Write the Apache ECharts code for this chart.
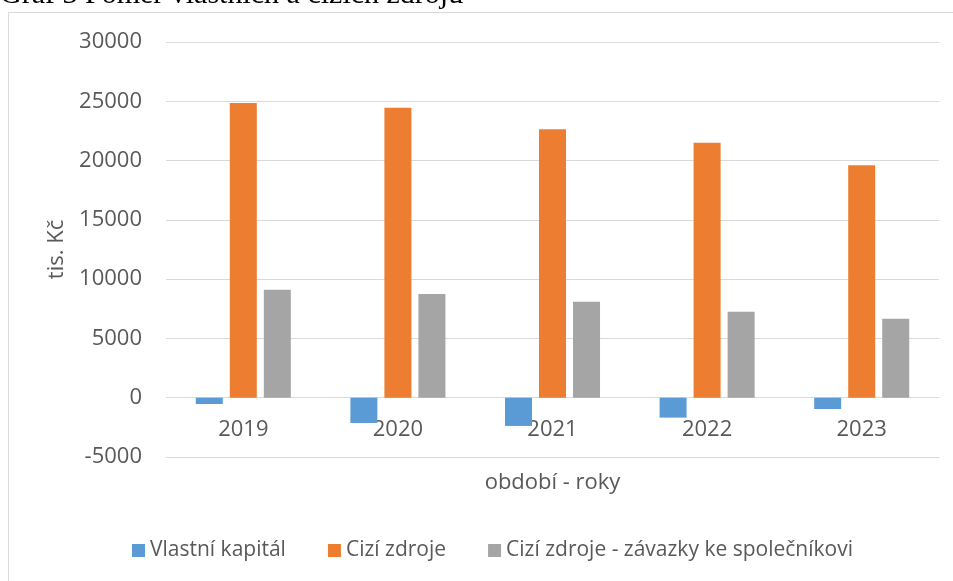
<!DOCTYPE html>
<html>
<head>
<meta charset="utf-8">
<script src="https://cdn.jsdelivr.net/npm/echarts@6/dist/echarts.min.js"></script>
<style>
  html, body { margin: 0; padding: 0; background: #fff; }
  #chart { width: 953px; height: 581px; }
</style>
</head>
<body>
<div id="chart"></div>
<script>
// hodnoty (tis. Kč)
const years = ['2019', '2020', '2021', '2022', '2023']
const vlastniKapital = [-530, -2130, -2380, -1680, -950]
const ciziZdroje = [24850, 24450, 22650, 21500, 19600]
const zavazkySpolecnik = [9100, 8750, 8100, 7250, 6650]
const seriesNames = ['Vlastní kapitál', 'Cizí zdroje', 'Cizí zdroje - závazky ke společníkovi']
const colors = ['#5b9bd5', '#ed7d31', '#a5a5a5']

const textColor = '#595959'
const font = 'Open Sans'

const chart = echarts.init(document.getElementById('chart'))

const bar = (name, data, color) => ({
    name: name,
    type: 'bar',
    data: data,
    barWidth: 27,
    barGap: '26%',
    itemStyle: { color: color }
})

chart.setOption({
    animation: false,
    title: {
        text: 'Graf 3 Poměr vlastních a cizích zdrojů',
        left: -5,
        top: -25,
        textStyle: {
            fontFamily: 'Liberation Serif',
            fontSize: 30,
            fontWeight: 'normal',
            color: '#000'
        }
    },
    graphic: [{
        type: 'rect',
        silent: true,
        shape: { x: 8.5, y: 12.5, width: 1000, height: 1000 },
        style: { fill: 'none', stroke: '#d9d9d9', lineWidth: 1 }
    }],
    legend: {
        left: 127,
        top: 535,
        itemWidth: 13,
        itemHeight: 13,
        itemGap: 42,
        icon: 'rect',
        textStyle: { fontFamily: font, fontSize: 21, color: textColor }
    },
    grid: {
        left: 166,
        right: 14,
        top: 42,
        bottom: 124
    },
    xAxis: {
        type: 'category',
        data: years,
        name: 'období - roky',
        nameLocation: 'middle',
        nameGap: 15,
        nameTextStyle: { fontFamily: font, fontSize: 22, color: textColor, verticalAlign: 'top' },
        axisLine: { onZero: false, lineStyle: { color: '#d9d9d9', width: 1 } },
        axisTick: { show: false },
        axisLabel: { fontFamily: font, fontSize: 22, color: textColor, margin: -38 }
    },
    yAxis: {
        type: 'value',
        min: -5000,
        max: 30000,
        interval: 5000,
        name: 'tis. Kč',
        nameLocation: 'middle',
        nameGap: 98,
        nameTextStyle: { fontFamily: font, fontSize: 22, color: textColor },
        axisLine: { show: false },
        axisTick: { show: false },
        axisLabel: {
            fontFamily: font, fontSize: 22, color: textColor, margin: 24,
            formatter: v => String(v)
        },
        splitLine: { lineStyle: { color: '#d9d9d9', width: 1 } }
    },
    series: [
        bar(seriesNames[0], vlastniKapital, colors[0]),
        bar(seriesNames[1], ciziZdroje, colors[1]),
        bar(seriesNames[2], zavazkySpolecnik, colors[2])
    ]
})
</script>
</body>
</html>
